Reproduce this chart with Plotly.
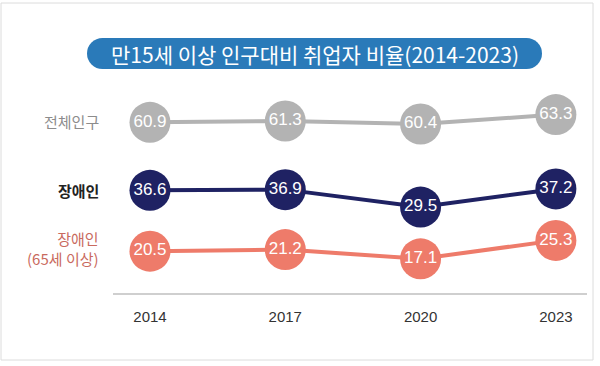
import plotly.graph_objects as go

# ---- data ----
years = [2014, 2017, 2020, 2023]
total_pop = [60.9, 61.3, 60.4, 63.3]
disabled = [36.6, 36.9, 29.5, 37.2]
disabled_65 = [20.5, 21.2, 17.1, 25.3]
series_names = ["전체인구", "<b>장애인</b>", "장애인<br>(65세 이상)"]
title_text = "만15세 이상 인구대비 취업자 비율(2014-2023)"

W, H = 600, 366

def px(x):
    return x / W

def py(y):
    return 1 - y / H

GRAY = "#b3b3b3"
NAVY = "#1f2263"
SALMON = "#ee7b6a"
BLUE = "#2a7ab9"
NUM_FONT = "Liberation Sans, Arial, sans-serif"
KR_FONT = "Noto Sans CJK KR, Noto Sans, sans-serif"

fig = go.Figure()

def add_series(vals, color, yaxis):
    fig.add_trace(go.Scatter(
        x=years, y=vals, yaxis=yaxis,
        mode="lines+markers+text",
        line=dict(color=color, width=4),
        marker=dict(size=41, color=color, line=dict(width=0)),
        text=[f"{v:.1f}" for v in vals],
        textposition="middle center",
        textfont=dict(family=NUM_FONT, size=17, color="white"),
        hoverinfo="skip", showlegend=False, cliponaxis=False,
    ))

add_series(total_pop, GRAY, "y")
add_series(disabled, NAVY, "y2")
add_series(disabled_65, SALMON, "y3")

common_y = dict(visible=False, fixedrange=True)
fig.update_layout(
    width=W, height=H,
    margin=dict(l=0, r=0, t=0, b=0),
    paper_bgcolor="white", plot_bgcolor="rgba(0,0,0,0)",
    xaxis=dict(
        domain=[px(113), px(587)], range=[2013.18, 2023.69],
        anchor="free", position=py(294),
        tickvals=years, ticktext=[str(y) for y in years],
        showline=True, linecolor="#cfcfcf", linewidth=2,
        showgrid=False, zeroline=False, fixedrange=True,
        ticks="outside", ticklen=9, tickcolor="rgba(0,0,0,0)",
        tickfont=dict(family="Liberation Sans, Arial, sans-serif", size=15, color="#333333"),
    ),
    yaxis=dict(domain=[py(150), py(95)], range=[52.34, 69.37], **common_y),
    yaxis2=dict(domain=[py(225), py(165)], range=[21.89, 47.36], anchor="x", **common_y),
    yaxis3=dict(domain=[py(290), py(228)], range=[3.25, 30.80], anchor="x", **common_y),
)

# frame
fig.add_shape(type="rect", xref="paper", yref="paper",
              x0=px(1), x1=px(593), y0=py(360), y1=py(3),
              line=dict(color="#dcdcdc", width=1), fillcolor="rgba(0,0,0,0)", layer="below")

# title pill
pt, pb, pl, pr = 38, 69, 87, 542
r = (pb - pt) / 2
fig.add_shape(type="rect", xref="paper", yref="paper",
              x0=px(pl + r), x1=px(pr - r), y0=py(pb), y1=py(pt),
              line=dict(width=0), fillcolor=BLUE, layer="below")
for cx in (pl + r, pr - r):
    fig.add_shape(type="circle", xref="paper", yref="paper",
                  x0=px(cx - r), x1=px(cx + r), y0=py(pb), y1=py(pt),
                  line=dict(width=0), fillcolor=BLUE, layer="below")
fig.add_annotation(xref="paper", yref="paper", x=px((pl + pr) / 2), y=py((pt + pb) / 2),
                   text=title_text, showarrow=False, xanchor="center", yanchor="middle",
                   font=dict(family=KR_FONT, size=21, color="white"))

# series labels
label_specs = [
    (series_names[0], 122, "#8c8c8c"),
    (series_names[1], 190, "#222222"),
    (series_names[2], 248, "#c96a5e"),
]
for txt, y, col in label_specs:
    fig.add_annotation(xref="paper", yref="paper", x=px(101), y=py(y),
                       text=txt, showarrow=False, xanchor="right", yanchor="middle",
                       align="right",
                       font=dict(family=KR_FONT, size=15, color=col))

fig.write_html("out.html", config={"displayModeBar": False},
               post_script="document.body.style.margin='0';")
